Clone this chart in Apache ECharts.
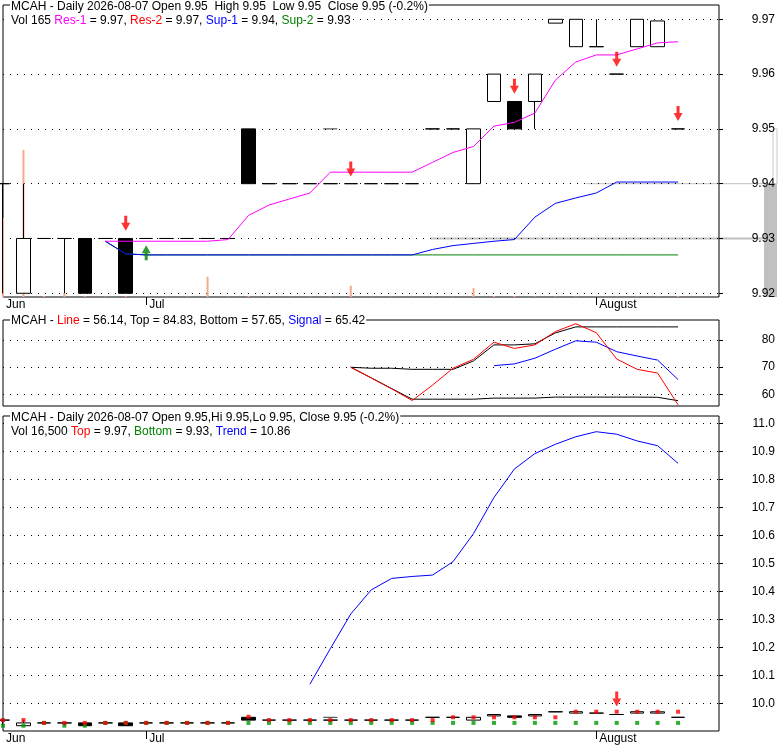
<!DOCTYPE html>
<html><head><meta charset="utf-8">
<script src="https://cdn.jsdelivr.net/npm/echarts@6.0.0/dist/echarts.min.js"></script>
<style>html,body{margin:0;padding:0;background:#fff}#c{width:780px;height:745px}</style>
</head><body><div id="c"></div>
<script>
// ---------------- data ----------------
const dates = ['2026-06-22','2026-06-23','2026-06-24','2026-06-25','2026-06-26','2026-06-29','2026-06-30',
  '2026-07-01','2026-07-02','2026-07-06','2026-07-07','2026-07-08','2026-07-09','2026-07-10','2026-07-13','2026-07-14',
  '2026-07-15','2026-07-16','2026-07-17','2026-07-20','2026-07-21','2026-07-22','2026-07-23','2026-07-24','2026-07-27',
  '2026-07-28','2026-07-29','2026-07-30','2026-07-31','2026-08-03','2026-08-04','2026-08-05','2026-08-06','2026-08-07'];
const monthNames = {'06':'Jun','07':'Jul','08':'August'};
const opens  = [9.94,9.92,9.93,9.93,9.93,9.93,9.93,9.93,9.93,9.93,9.93,9.93,9.95,9.94,9.94,9.94,9.94,9.94,9.94,9.94,9.94,9.95,9.95,9.94,9.955,9.955,9.955,9.9693,9.965,9.965,9.96,9.965,9.965,9.95];
const closes = [9.94,9.93,9.93,9.93,9.92,9.93,9.92,9.93,9.93,9.93,9.93,9.93,9.94,9.94,9.94,9.94,9.94,9.94,9.94,9.94,9.94,9.95,9.95,9.95,9.96,9.95,9.96,9.97,9.97,9.965,9.96,9.97,9.9697,9.95];
const lows   = [9.92,9.92,9.93,9.92,9.92,9.93,9.92,9.93,9.93,9.93,9.93,9.93,9.94,9.94,9.94,9.94,9.94,9.94,9.94,9.94,9.94,9.95,9.95,9.94,9.955,9.95,9.95,9.9693,9.965,9.965,9.96,9.965,9.965,9.95];
const highs  = [9.94,9.94,9.93,9.93,9.93,9.93,9.93,9.93,9.93,9.93,9.93,9.93,9.95,9.94,9.94,9.94,9.94,9.94,9.94,9.94,9.94,9.95,9.95,9.95,9.96,9.955,9.96,9.97,9.97,9.97,9.96,9.97,9.9697,9.95];
const volumes = [1353000,2517000,17000,68000,17000,6000,17000,5000,4000,6000,348000,5000,17000,4000,3000,5000,6000,193000,4000,5000,3000,6000,5000,154000,17000,17000,8000,9000,7000,6000,5000,8000,7000,16500];
const extraMarkIdx = [16];
const extraMarkVal = [9.95];

const res1Start = 5;
const res1 = [9.9295,9.9295,9.9295,9.9295,9.9295,9.9295,9.9298,9.9342,9.9361,9.9372,9.9383,9.9421,9.9421,9.9421,9.9421,9.9421,9.9439,9.9457,9.9468,9.9505,9.9512,9.9529,9.9589,9.9622,9.9635,9.9635,9.9646,9.9657,9.9659];
const res2Last = 9.97;
const sup1Start = 5;
const sup1 = [9.9295,9.9272,9.927,9.927,9.927,9.927,9.927,9.927,9.927,9.927,9.927,9.927,9.927,9.927,9.927,9.927,9.9280,9.9287,9.9291,9.9295,9.9298,9.9339,9.9364,9.9374,9.9383,9.9403,9.9403,9.9403,9.9403];
const sup2Start = 5;
const sup2 = [9.9295,9.9272,9.927,9.927,9.927,9.927,9.927,9.927,9.927,9.927,9.927,9.927,9.927,9.927,9.927,9.927,9.927,9.927,9.927,9.927,9.927,9.927,9.927,9.927,9.927,9.927,9.927,9.927,9.927];
const sellIdx = [6,17,25,30,33];
const sellVal = [9.9328,9.9427,9.9578,9.9627,9.9528];
const buyIdx = [7];
const buyVal = [9.9274];
const grayLevels = [9.93, 9.94];
const grayFromIdx = [20.9, 28.5];
const grayBandTop = 9.94;
const grayOutline = [9.94, 9.95];

const oscStart = 17;
const oscLine   = [69.96,66.0,62.0,57.7,63.4,69.6,72.9,79.2,76.9,78.2,83.1,86.0,82.7,73.0,69.2,67.8,56.14];
const oscTop    = [69.96,69.6,69.6,69.2,69.2,69.2,72.3,78.2,78.2,78.6,82.6,84.83,84.83,84.83,84.83,84.83,84.83];
const oscBottom = [69.96,66.07,62.1,58.2,58.2,58.2,58.2,58.6,58.6,58.6,58.97,58.97,58.97,58.97,58.97,58.9,57.65];
const signalStart = 24;
const oscSignal = [70.55,71.2,73.3,76.6,79.7,79.2,75.7,74.1,72.6,65.42];

const trendStart = 15;
const trend = [10.068,10.195,10.319,10.405,10.446,10.453,10.458,10.506,10.606,10.735,10.837,10.892,10.925,10.952,10.970,10.961,10.937,10.920,10.857];
const topMarks = [9.94,9.94,9.93,9.93,9.93,9.93,9.93,9.93,9.93,9.93,9.93,9.93,9.952,9.94,9.94,9.94,9.94,9.94,9.94,9.94,9.94,9.94,9.95,9.95,9.95,9.95,9.95,9.95,9.97,9.97,9.97,9.97,9.97,9.97];
const bottomMarks = [9.92,9.92,9.93,9.92,9.92,9.93,9.93,9.93,9.93,9.93,9.93,9.93,9.93,9.93,9.93,9.93,9.93,9.93,9.93,9.93,9.93,9.93,9.93,9.93,9.93,9.93,9.93,9.93,9.93,9.93,9.93,9.93,9.93,9.93];
const trendSellIdx = [30];
const trendSellVal = [10.0154];

const priceTicks = [9.92,9.93,9.94,9.95,9.96,9.97];
const oscTicks = [60,70,80];
const trendTicks = [10.0,10.1,10.2,10.3,10.4,10.5,10.6,10.7,10.8,10.9,11.0];

// ---------------- layout / style ----------------
const FONT = 'Liberation Sans, Arial, sans-serif';
const NCAT = 36;
const cats = dates.concat(['', '']);
const GL = 3, GW = 716;
const P1 = {top:5, height:292}, P2 = {top:320, height:86}, P3 = {top:416, height:315};
const priceMin = 9.91932, priceMax = 9.97261;
const oscMin = 55.69, oscMax = 87.37;
const trMin = 9.9011, trMax = 11.0261;
const step = GW / (NCAT - 1);
const overlayW = 774;

const n = dates.length, last = n - 1;
const pad = (start, arr) => { const out = new Array(n).fill(null); arr.forEach((v, i) => out[start + i] = v); return out; };
const f2 = v => v.toFixed(2);
const ohlc = opens.map((o, i) => [o, closes[i], lows[i], highs[i]]);
const chg = ((closes[last] - closes[last-1]) / closes[last-1] * 100).toFixed(1);
const monthOf = i => (cats[i] || '').slice(5, 7);
const isMonthStart = i => cats[i] !== '' && cats[i] !== undefined && (i === 0 || monthOf(i) !== monthOf(i-1));

const DOWN = 'path://M3,0H6V7H9L4.5,15L0,7H3Z';
const UP = 'path://M4.5,0L9,8H6V15H3V8H0Z';

function rich() {
  const b = {fontSize:12, fontFamily:FONT, lineHeight:13};
  return {m:{...b,color:'#ff00ff'}, r:{...b,color:'#ff0000'}, b:{...b,color:'#0000ff'}, g:{...b,color:'#008000'}};
}
function mkTitle(text, top) {
  return {text, left:10, top, padding:[0,1,0,1], backgroundColor:'#fff',
    textStyle:{fontSize:12, fontWeight:'normal', fontFamily:FONT, color:'#000', lineHeight:13, rich:rich()}};
}
const dotted = {show:true, lineStyle:{color:'#000', width:1, type:[1,6]}};
function yVal(gridIndex, min, max, stepV, ticks, dec) {
  return {type:'value', gridIndex, position:'right', min, max, minInterval:stepV, maxInterval:stepV, z:0,
    axisLine:{show:false},
    axisTick:{show:true, inside:false, length:4, lineStyle:{color:'#000'}, customValues:ticks},
    axisLabel:{show:true, margin:56, align:'right', fontSize:12, fontFamily:FONT, color:'#000',
      formatter: v => ticks.some(t => Math.abs(t - v) < stepV/100) ? v.toFixed(dec) : ''},
    splitLine:dotted};
}
function xCat(gridIndex, showLabels) {
  return {type:'category', gridIndex, data:cats, boundaryGap:false,
    axisLine:{show:false},
    axisTick:{show:showLabels, interval:(i) => isMonthStart(i) && i > 0, length:8, lineStyle:{color:'#000'}},
    axisLabel:{show:showLabels, interval:(i) => isMonthStart(i), formatter:(v) => monthNames[v.slice(5,7)] || '',
      align:'left', padding:[0,0,0,3], margin:2, fontSize:12, fontFamily:FONT, color:'#000'},
    splitLine:{show:false}};
}
const candleStyle = {color:'#fff', color0:'#000', borderColor:'#000', borderColor0:'#000', borderColorDoji:'#000', colorDoji:'#000', borderWidth:1};
const pts = (idx, vals) => idx.map((x, i) => [x, vals[i]]);
const lineS = (x, y, data, color, z) => ({type:'line', xAxisIndex:x, yAxisIndex:y, data, symbol:'none', connectNulls:false,
  lineStyle:{color, width:1}, itemStyle:{color}, z: z || 3, animation:false});

const t1 = `MCAH - Daily ${dates[last]} Open ${f2(opens[last])}  High ${f2(highs[last])}  Low ${f2(lows[last])}  Close ${f2(closes[last])} (${chg}%)`;
const t2 = `Vol ${volumes[last]/100} {m|Res-1} = ${f2(res1[res1.length-1])}, {r|Res-2} = ${f2(res2Last)}, {b|Sup-1} = ${f2(sup1[sup1.length-1])}, {g|Sup-2} = ${f2(sup2[sup2.length-1])}`;
const t3 = `MCAH - {r|Line} = ${f2(oscLine[oscLine.length-1])}, Top = ${f2(oscTop[oscTop.length-1])}, Bottom = ${f2(oscBottom[oscBottom.length-1])}, {b|Signal} = ${f2(oscSignal[oscSignal.length-1])}`;
const t4 = `MCAH - Daily ${dates[last]} Open ${f2(opens[last])},Hi ${f2(highs[last])},Lo ${f2(lows[last])}, Close ${f2(closes[last])} (${chg}%)`;
const t5 = `Vol ${volumes[last].toLocaleString('en-US')} {r|Top} = ${f2(topMarks[last])}, {g|Bottom} = ${f2(bottomMarks[last])}, {b|Trend} = ${f2(trend[trend.length-1])}`;

const grayMax = overlayW / step;
const option = {
  animation:false,
  backgroundColor:'#fff',
  title:[mkTitle(t1, 0), mkTitle(t2, 14), mkTitle(t3, 314), mkTitle(t4, 411.5), mkTitle(t5, 425.5)],
  grid:[
    {left:GL, top:P1.top, width:GW, height:P1.height, show:true, borderColor:'#000', borderWidth:1, backgroundColor:'transparent', containLabel:false, outerBoundsMode:'none'},
    {left:GL, top:P2.top, width:GW, height:P2.height, show:true, borderColor:'#000', borderWidth:1, backgroundColor:'transparent', containLabel:false, outerBoundsMode:'none'},
    {left:GL, top:P3.top, width:GW, height:P3.height, show:true, borderColor:'#000', borderWidth:1, backgroundColor:'transparent', containLabel:false, outerBoundsMode:'none'},
    {left:GL, top:P1.top, width:overlayW, height:P1.height, show:false, containLabel:false, outerBoundsMode:'none'}
  ],
  xAxis:[
    xCat(0, true), xCat(1, false), xCat(2, true),
    {type:'value', gridIndex:3, min:0, max:grayMax, show:false}
  ],
  yAxis:[
    yVal(0, priceMin, priceMax, 0.01, priceTicks, 2),
    {type:'value', gridIndex:0, min:0, max:5000000, show:false, splitLine:{show:false}},
    yVal(1, oscMin, oscMax, 10, oscTicks, 0),
    yVal(2, trMin, trMax, 0.1, trendTicks, 1),
    {type:'value', gridIndex:3, min:priceMin, max:priceMax, show:false, splitLine:{show:false}}
  ],
  series:[
    // overlay gray levels (behind everything)
    {type:'line', xAxisIndex:3, yAxisIndex:4, data:[[grayFromIdx[0], grayLevels[0]], [grayMax - 13/step, grayLevels[0]]], symbol:'none', lineStyle:{color:'#c0c0c0', width:2}, z:-1,
      markArea:{silent:true, z:-2, data:[
        [{coord:[grayMax - 13/step, priceMin], itemStyle:{color:'#c0c0c0'}}, {coord:[grayMax, grayBandTop]}],
        [{coord:[grayMax - 4/step, grayOutline[0]], itemStyle:{color:'rgba(0,0,0,0)', borderColor:'#c8c8c8', borderWidth:1}}, {coord:[grayMax, grayOutline[1]]}]
      ]}},
    {type:'line', xAxisIndex:3, yAxisIndex:4, data:[[grayFromIdx[1], grayLevels[1]], [grayMax, grayLevels[1]]], symbol:'none', lineStyle:{color:'#c0c0c0', width:1}, z:-1},
    // top panel
    {type:'bar', xAxisIndex:0, yAxisIndex:1, data:volumes, barWidth:2, itemStyle:{color:'#f8a88c'}, z:1},
    {type:'candlestick', xAxisIndex:0, yAxisIndex:0, data:ohlc, barWidth:14, itemStyle:candleStyle, z:2},
    {type:'scatter', xAxisIndex:0, yAxisIndex:0, data:pts(extraMarkIdx, extraMarkVal), symbol:'rect', symbolSize:[14,1], itemStyle:{color:'#000'}, z:2},
    lineS(0, 0, pad(sup2Start, sup2), '#008000'),
    lineS(0, 0, pad(sup1Start, sup1), '#0000ff'),
    lineS(0, 0, pad(res1Start, res1), '#ff00ff'),
    {type:'scatter', xAxisIndex:0, yAxisIndex:0, data:pts(sellIdx, sellVal), symbol:DOWN, symbolSize:[9,15], itemStyle:{color:'#ff0000'}, z:4},
    {type:'scatter', xAxisIndex:0, yAxisIndex:0, data:pts(buyIdx, buyVal), symbol:UP, symbolSize:[9,15], itemStyle:{color:'#008000'}, z:4},
    // middle panel
    lineS(1, 2, pad(oscStart, oscTop), '#000'),
    lineS(1, 2, pad(oscStart, oscBottom), '#000'),
    lineS(1, 2, pad(signalStart, oscSignal), '#0000ff'),
    lineS(1, 2, pad(oscStart, oscLine), '#ff0000', 4),
    // bottom panel
    {type:'candlestick', xAxisIndex:2, yAxisIndex:3, data:ohlc, barWidth:14, itemStyle:candleStyle, z:2},
    {type:'scatter', xAxisIndex:2, yAxisIndex:3, data:pts(extraMarkIdx, extraMarkVal), symbol:'rect', symbolSize:[14,1], itemStyle:{color:'#000'}, z:2},
    {type:'scatter', xAxisIndex:2, yAxisIndex:3, data:bottomMarks.map((v,i)=>[i,v]), symbol:'rect', symbolSize:4, itemStyle:{color:'#009900'}, z:3},
    {type:'scatter', xAxisIndex:2, yAxisIndex:3, data:topMarks.map((v,i)=>[i,v]), symbol:'rect', symbolSize:4, itemStyle:{color:'#ff0000'}, z:3},
    lineS(2, 3, pad(trendStart, trend), '#0000ff'),
    {type:'scatter', xAxisIndex:2, yAxisIndex:3, data:pts(trendSellIdx, trendSellVal), symbol:DOWN, symbolSize:[9,15], itemStyle:{color:'#ff0000'}, z:4}
  ]
};
const chart = echarts.init(document.getElementById('c'), null, {renderer:'canvas'});
chart.setOption(option);
</script>
</body></html>
